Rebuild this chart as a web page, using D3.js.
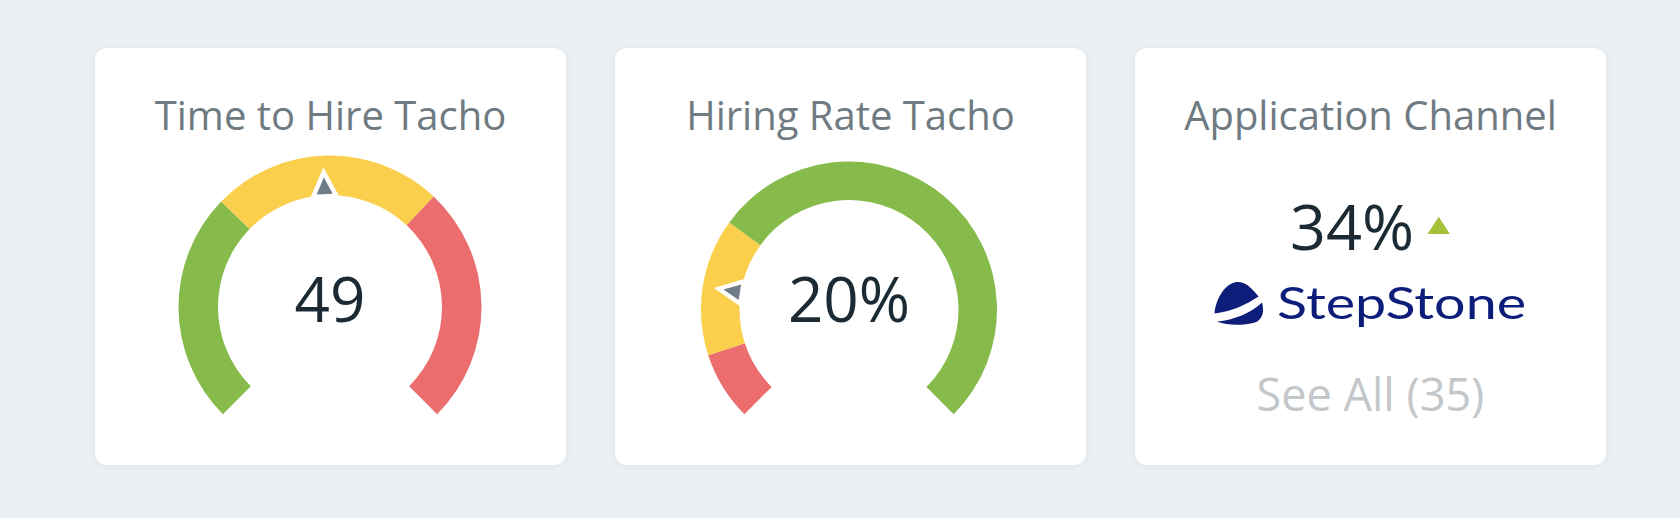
<!DOCTYPE html>
<html>
<head>
<meta charset="utf-8">
<script src="https://cdn.jsdelivr.net/npm/d3@7"></script>
<style>
  html, body { margin: 0; padding: 0; background: #ebf0f3; }
  svg { display: block; }
</style>
</head>
<body>
<svg id="chart" width="1680" height="518"></svg>
<script>
// ---- data ----
const cardTitles = ["Time to Hire Tacho", "Hiring Rate Tacho", "Application Channel"];
const gaugeValues = [49, 20];
const gaugeLabels = ["49", "20%"];
const gaugeDomain = [0, 100];
const gauge1Thresholds = [0, 33, 66, 100];
const gauge1Colors = ["#86bb4c", "#f9cf4b", "#ec6d6e"];
const gauge2Thresholds = [0, 10, 30, 100];
const gauge2Colors = ["#ec6d6e", "#f9cf4b", "#86bb4c"];
const channelValue = "34%";
const channelName = "StepStone";
const channelSeeAll = "See All (35)";

// ---- layout ----
const svg = d3.select("#chart");
const defs = svg.append("defs");
const f = defs.append("filter").attr("id", "shadow")
  .attr("x", "-10%").attr("y", "-10%").attr("width", "120%").attr("height", "120%");
f.append("feDropShadow").attr("dx", 0).attr("dy", 1).attr("stdDeviation", 5)
  .attr("flood-color", "#8fa3b0").attr("flood-opacity", 0.18);

const cardX = [95, 615, 1135];
const cardY = 48, cardW = 471, cardH = 417;

cardX.forEach(x => {
  svg.append("rect").attr("x", x).attr("y", cardY).attr("width", cardW).attr("height", cardH)
    .attr("rx", 12).attr("fill", "#ffffff").attr("filter", "url(#shadow)");
});

cardTitles.forEach((t, i) => {
  svg.append("text").attr("x", cardX[i] + cardW / 2).attr("y", 130)
    .attr("text-anchor", "middle")
    .attr("font-family", "'Open Sans', sans-serif").attr("font-size", 40)
    .attr("fill", "#6f7a81").text(t);
});

// ---- gauges ----
const gauges = [
  { cx: 330, cy: 307, ro: 151.5, ri: 112, th: gauge1Thresholds, col: gauge1Colors },
  { cx: 849, cy: 309.5, ro: 148, ri: 109.5, th: gauge2Thresholds, col: gauge2Colors }
];

gauges.forEach((g, gi) => {
  const angle = d3.scaleLinear().domain(gaugeDomain).range([-135 * Math.PI / 180, 135 * Math.PI / 180]);
  const arc = d3.arc().innerRadius(g.ri).outerRadius(g.ro);
  const grp = svg.append("g").attr("transform", `translate(${g.cx},${g.cy})`);
  const bands = g.col.map((c, k) => ({ a: g.th[k], b: g.th[k + 1], c }));
  grp.selectAll("path.band").data(bands).join("path").attr("class", "band")
    .attr("d", d => arc({ startAngle: angle(d.a), endAngle: angle(d.b) }))
    .attr("fill", d => d.c);

  const s = g.ro / 151.5;
  const deg = angle(gaugeValues[gi]) * 180 / Math.PI;
  const p = grp.append("g").attr("transform", `rotate(${deg})`);
  p.append("path")
    .attr("d", `M${-14 * s},${-(g.ri - 1)} L${14 * s},${-(g.ri - 1)} L0,${-(g.ri + 28 * s)} Z`)
    .attr("fill", "#ffffff");
  p.append("path")
    .attr("d", `M${-8 * s},${-(g.ri + 1)} L${8 * s},${-(g.ri + 1)} L0,${-(g.ri + 18 * s)} Z`)
    .attr("fill", "#6f7d89");

  grp.append("text").attr("x", 0).attr("y", 321.7 - g.cy)
    .attr("text-anchor", "middle")
    .attr("font-family", "'Open Sans', sans-serif").attr("font-size", 62)
    .attr("fill", "#1c2a33").text(gaugeLabels[gi]);
});

// ---- application channel card ----
const c3 = cardX[2] + cardW / 2;
svg.append("text").attr("x", 1290).attr("y", 250)
  .attr("font-family", "'Open Sans', sans-serif").attr("font-size", 63)
  .attr("fill", "#1c2a33").text(channelValue);
svg.append("path").attr("d", "M1427.5,234 L1438.7,216.7 L1450,234 Z").attr("fill", "#a7c03a");

const logo = svg.append("g");
logo.append("path")
  .attr("d", "M1214.5,313.5 C1215,302 1223,285 1235,282.2 C1244,280.5 1251,287 1258.5,296.5 C1246,305 1231,311.5 1214.5,313.5 Z")
  .attr("fill", "#0c1e7a");
logo.append("path")
  .attr("d", "M1217,321.5 C1234,320 1251,313 1262,302.5 C1264.5,311 1263,319.5 1255,322.5 C1244,325.5 1228,326 1217,321.5 Z")
  .attr("fill", "#0c1e7a");
logo.append("text").attr("x", 1277).attr("y", 319.3)
  .attr("font-family", "Lato, sans-serif").attr("font-size", 45)
  .attr("textLength", 249).attr("lengthAdjust", "spacingAndGlyphs")
  .attr("fill", "#0c1e7a").text(channelName);

svg.append("text").attr("x", c3).attr("y", 411)
  .attr("text-anchor", "middle")
  .attr("font-family", "'Open Sans', sans-serif").attr("font-size", 45)
  .attr("fill", "#c3c7ca").text(channelSeeAll);
</script>
</body>
</html>
